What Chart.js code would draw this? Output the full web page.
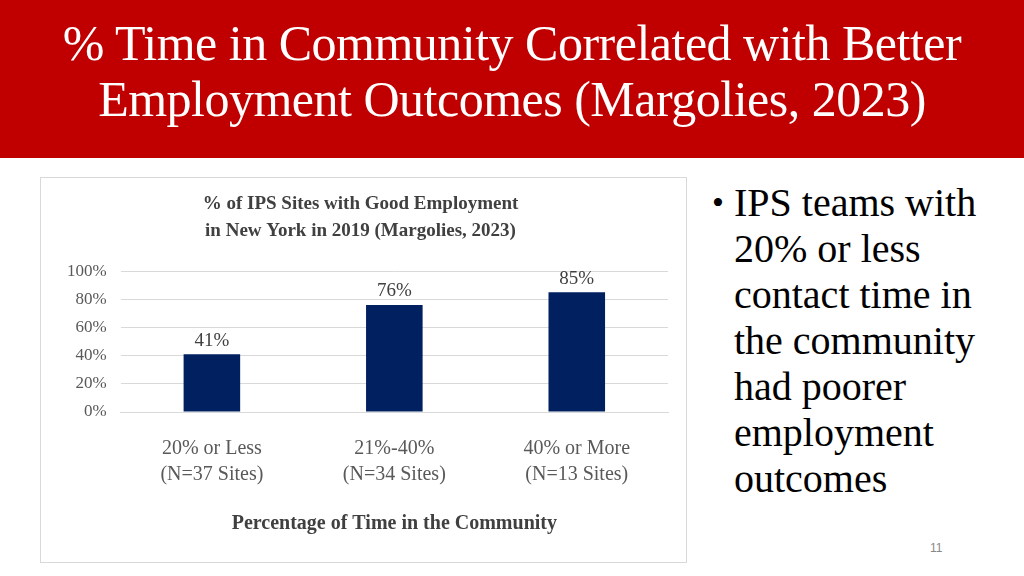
<!DOCTYPE html>
<html><head><meta charset="utf-8">
<script src="https://cdn.jsdelivr.net/npm/chart.js@4"></script>
<style>
body{margin:0;width:1024px;height:576px;background:#fff;position:relative;overflow:hidden;font-family:"Liberation Serif","Times New Roman",serif}
#hdr{position:absolute;left:0;top:0;width:1024px;height:158px;background:#C00000;color:#fff;font-size:50px;line-height:56px;text-align:center;padding-top:15px;box-sizing:border-box;letter-spacing:-0.5px}
#box{position:absolute;left:40px;top:177px;width:647px;height:386px;border:1px solid #d9d9d9;box-sizing:border-box}
#txt{position:absolute;left:712px;top:180px;width:300px;font-size:40px;line-height:46px;color:#000}
#txt .b{position:absolute;left:0;top:0;font-size:34px}
#txt div.t{padding-left:22px}
#pg{position:absolute;left:930px;top:541px;font-size:12px;color:#888;font-family:"Liberation Sans",sans-serif}
</style></head><body>
<div id="hdr">% Time in Community Correlated with Better<br>Employment Outcomes (Margolies, 2023)</div>
<div id="box"><canvas id="c"></canvas></div>
<div id="txt"><span class="b">•</span><div class="t">IPS teams with 20% or less contact time in the community had poorer employment outcomes</div></div>
<div id="pg">11</div>
<script>
const categories=[["20% or Less","(N=37 Sites)"],["21%-40%","(N=34 Sites)"],["40% or More","(N=13 Sites)"]];
const values=[41,76,85];
const yTicks=[0,20,40,60,80,100];
const serif='"Liberation Serif","Times New Roman",serif';
const labelPlugin={id:'lbl',afterDatasetsDraw(ch){const c=ch.ctx;const m=ch.getDatasetMeta(0);c.save();c.font='19px '+serif;c.fillStyle='#404040';c.textAlign='center';c.textBaseline='bottom';
m.data.forEach((b,i)=>c.fillText(values[i]+'%',b.x,b.y-4));c.restore();}};
new Chart(document.getElementById('c'),{type:'bar',
data:{labels:categories,datasets:[{data:values,backgroundColor:'#002060',categoryPercentage:1,barPercentage:0.31}]},
options:{responsive:true,maintainAspectRatio:false,animation:false,
layout:{padding:{left:12,right:18,top:4,bottom:22}},
plugins:{legend:{display:false},tooltip:{enabled:false},
title:{display:true,text:['% of IPS Sites with Good Employment','in New York in 2019 (Margolies, 2023)'],font:{family:serif,size:19,weight:'bold',lineHeight:1.45},color:'#404040',padding:{top:8,bottom:26},align:'center',position:'top'}},
scales:{y:{min:0,max:100,afterBuildTicks(a){a.ticks=yTicks.map(v=>({value:v}));},
ticks:{callback:v=>v+'%',font:{family:serif,size:17},color:'#595959',padding:14},
grid:{color:'#d9d9d9',drawTicks:false},border:{display:false}},
x:{ticks:{font:{family:serif,size:20,lineHeight:1.3},color:'#595959',padding:16},grid:{display:false},border:{color:'#d9d9d9'},
title:{display:true,text:'Percentage of Time in the Community',font:{family:serif,size:20,weight:'bold'},color:'#404040',padding:{top:8}}}}},
plugins:[labelPlugin]});
</script>
</body></html>
